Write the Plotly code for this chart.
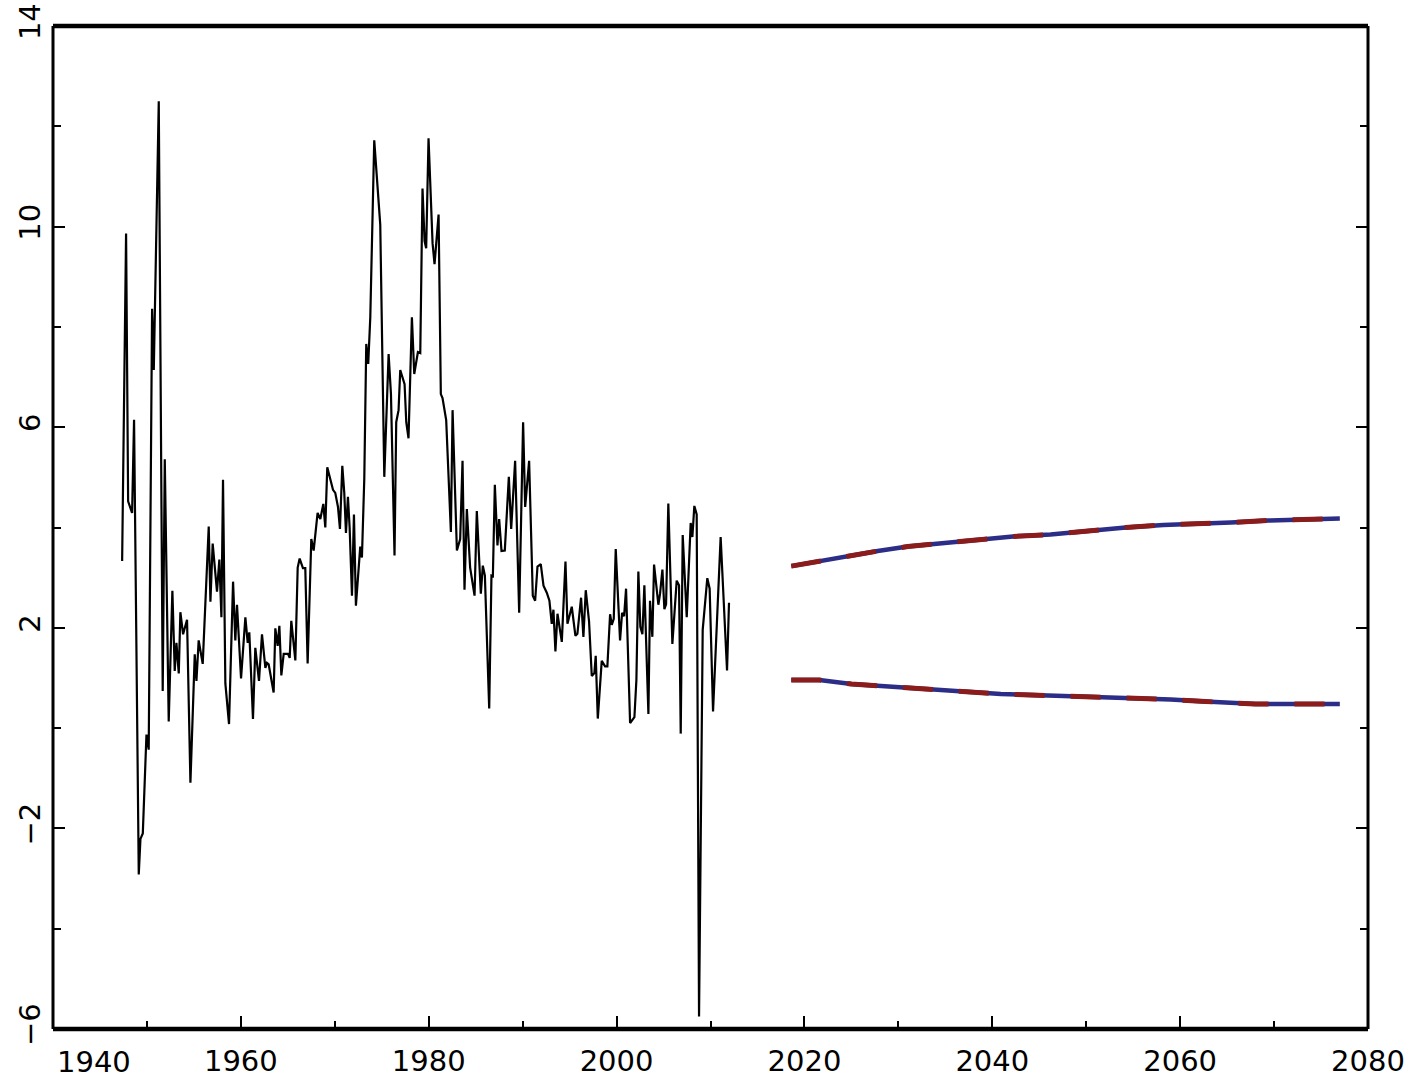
import plotly.graph_objects as go

# Historical quarterly series (decimal year, percent)
hist_year = [
    1947.36, 1947.78, 1948.00, 1948.42, 1948.63, 1949.13, 1949.31, 1949.56, 1949.95, 1950.19,
    1950.55, 1950.73, 1951.26, 1951.68, 1951.90, 1952.32, 1952.71, 1952.96, 1953.14, 1953.39,
    1953.56, 1953.85, 1954.27, 1954.63, 1955.09, 1955.27, 1955.51, 1955.94, 1956.58, 1956.76,
    1957.00, 1957.46, 1957.71, 1957.93, 1958.10, 1958.35, 1958.74, 1959.17, 1959.41, 1959.59,
    1960.02, 1960.48, 1960.73, 1960.90, 1961.29, 1961.54, 1961.93, 1962.25, 1962.61, 1962.78,
    1962.96, 1963.49, 1963.67, 1963.92, 1964.10, 1964.31, 1964.56, 1965.02, 1965.20, 1965.37,
    1965.80, 1966.05, 1966.26, 1966.61, 1966.86, 1967.11, 1967.50, 1967.75, 1968.17, 1968.46,
    1968.78, 1968.99, 1969.20, 1969.52, 1969.81, 1970.05, 1970.34, 1970.55, 1970.80, 1971.01,
    1971.19, 1971.40, 1971.58, 1971.83, 1972.04, 1972.25, 1972.71, 1972.89, 1973.14, 1973.35,
    1973.56, 1973.78, 1974.20, 1974.84, 1975.27, 1975.73, 1975.98, 1976.36, 1976.54, 1976.79,
    1976.97, 1977.43, 1977.61, 1977.85, 1978.21, 1978.46, 1978.85, 1979.10, 1979.34, 1979.56,
    1979.73, 1979.98, 1980.41, 1980.62, 1981.05, 1981.29, 1981.47, 1981.86, 1982.36, 1982.54,
    1983.00, 1983.35, 1983.60, 1983.81, 1984.06, 1984.41, 1984.88, 1985.12, 1985.55, 1985.76,
    1985.98, 1986.44, 1986.68, 1986.83, 1987.04, 1987.32, 1987.50, 1987.75, 1988.10, 1988.53,
    1988.78, 1989.20, 1989.63, 1990.05, 1990.27, 1990.69, 1991.08, 1991.33, 1991.58, 1991.93,
    1992.22, 1992.57, 1992.85, 1993.10, 1993.28, 1993.49, 1993.71, 1994.17, 1994.56, 1994.77,
    1995.23, 1995.62, 1995.83, 1996.22, 1996.47, 1996.72, 1997.07, 1997.36, 1997.64, 1997.78,
    1998.00, 1998.42, 1998.78, 1999.02, 1999.31, 1999.49, 1999.70, 1999.91, 2000.37, 2000.59,
    2000.80, 2001.01, 2001.44, 2001.90, 2002.11, 2002.32, 2002.53, 2002.75, 2002.96, 2003.39,
    2003.56, 2003.81, 2003.99, 2004.45, 2004.63, 2004.88, 2005.09, 2005.27, 2005.51, 2005.94,
    2006.40, 2006.65, 2006.83, 2007.04, 2007.47, 2007.89, 2008.07, 2008.28, 2008.53, 2008.78,
    2009.17, 2009.66, 2009.91, 2010.27, 2011.08, 2011.76, 2011.97,
]
hist_value = [
    3.33, 9.86, 4.52, 4.29, 6.15, -2.92, -2.21, -2.10, -0.13, -0.43,
    8.36, 7.14, 12.50, 0.74, 5.36, 0.13, 2.74, 1.14, 1.70, 1.09,
    2.31, 1.87, 2.16, -1.09, 1.47, 0.94, 1.75, 1.28, 4.02, 2.52,
    3.68, 2.72, 3.36, 2.21, 4.95, 0.89, 0.08, 2.92, 1.75, 2.46,
    0.99, 2.21, 1.70, 1.91, 0.18, 1.60, 0.94, 1.87, 1.20, 1.30,
    1.27, 0.71, 1.99, 1.64, 2.04, 1.05, 1.48, 1.48, 1.40, 2.14,
    1.35, 3.20, 3.38, 3.19, 3.19, 1.29, 3.77, 3.54, 4.29, 4.17,
    4.47, 4.00, 5.20, 4.93, 4.75, 4.69, 4.41, 3.97, 5.23, 4.69,
    3.89, 4.61, 4.00, 2.64, 4.26, 2.44, 3.62, 3.40, 4.97, 7.66,
    7.26, 8.19, 11.72, 10.04, 5.01, 7.46, 6.66, 3.44, 6.10, 6.34,
    7.14, 6.86, 6.10, 5.78, 8.19, 7.06, 7.50, 7.48, 10.76, 9.71,
    9.57, 11.76, 9.67, 9.25, 10.24, 6.66, 6.58, 6.14, 3.91, 6.34,
    3.54, 3.77, 5.33, 2.76, 4.37, 3.20, 2.64, 4.33, 2.68, 3.24,
    3.04, 0.39, 3.04, 3.03, 4.85, 3.64, 4.17, 3.53, 3.54, 5.01,
    3.97, 5.33, 2.30, 6.10, 4.41, 5.33, 2.64, 2.54, 3.22, 3.27,
    2.84, 2.70, 2.54, 2.08, 2.36, 1.53, 2.28, 1.72, 3.32, 2.08,
    2.42, 1.84, 1.88, 2.60, 1.82, 2.75, 2.13, 1.04, 1.10, 1.44,
    0.19, 1.34, 1.23, 1.23, 2.27, 2.06, 2.18, 3.57, 1.75, 2.30,
    2.23, 2.78, 0.10, 0.22, 0.96, 3.12, 2.02, 1.87, 2.85, 0.28,
    2.54, 1.82, 3.26, 2.46, 2.68, 3.16, 2.37, 2.47, 4.48, 1.68,
    2.94, 2.85, -0.11, 3.85, 2.21, 4.09, 3.81, 4.43, 4.26, -5.75,
    1.96, 2.99, 2.78, 0.33, 3.81, 1.15, 2.50,
]

# Projected upper and lower paths
upper_year = [2018.6, 2021.4, 2024.2, 2027.8, 2031.0, 2034.2, 2038.2, 2042.2, 2046.2,
              2050.2, 2054.2, 2058.2, 2062.2, 2065.4, 2069.4, 2073.4, 2077.0]
upper_value = [3.23, 3.32, 3.43, 3.53, 3.62, 3.68, 3.75, 3.82, 3.86,
               3.94, 4.00, 4.05, 4.07, 4.10, 4.14, 4.15, 4.18]
lower_year = [2018.6, 2021.6, 2025.0, 2028.4, 2032.6, 2036.4, 2040.9, 2047.6, 2053.7,
              2059.0, 2062.7, 2068.0, 2077.0]
lower_value = [0.96, 0.96, 0.88, 0.84, 0.77, 0.73, 0.68, 0.64, 0.61,
               0.57, 0.53, 0.48, 0.48]

x_ticks = [1960, 1980, 2000, 2020, 2040, 2060, 2080]

BLUE = "#2b2d86"
RED = "#8a1c1c"
FONT = "DejaVu Sans"
FSIZE = 29

fig = go.Figure()

fig.add_trace(go.Scatter(
    x=hist_year, y=hist_value, mode="lines",
    line=dict(color="black", width=2.2), showlegend=False, hoverinfo="skip",
))

for xs, ys in ((upper_year, upper_value), (lower_year, lower_value)):
    fig.add_trace(go.Scatter(
        x=xs, y=ys, mode="lines",
        line=dict(color=BLUE, width=4.5), showlegend=False,
    ))
    fig.add_trace(go.Scatter(
        x=xs, y=ys, mode="lines",
        line=dict(color=RED, width=5, dash="30px,26px"), showlegend=False,
    ))

fig.update_layout(
    width=1414, height=1081,
    margin=dict(l=53, r=46, t=26, b=52, autoexpand=False),
    paper_bgcolor="white", plot_bgcolor="white",
    font=dict(family=FONT, size=FSIZE, color="black"),
)

fig.update_xaxes(
    range=[1940, 2080], showgrid=False, zeroline=False, showline=False,
    automargin=False,
    tickmode="array", tickvals=x_ticks, ticktext=[str(v) for v in x_ticks],
    ticks="inside", ticklen=13, tickwidth=2, tickcolor="black",
    minor=dict(ticks="inside", ticklen=8, tickwidth=2, tickcolor="black",
               dtick=10, tick0=1940),
    ticklabelstandoff=12,
    tickfont=dict(family=FONT, size=FSIZE),
)
fig.update_yaxes(
    range=[-6, 14], showgrid=False, zeroline=False, showline=False,
    automargin=False,
    tickmode="linear", tick0=-6, dtick=4, mirror="ticks",
    ticks="inside", ticklen=12, tickwidth=2, tickcolor="black",
    minor=dict(ticks="inside", ticklen=8, tickwidth=2, tickcolor="black",
               dtick=2, tick0=0),
    ticklabelstandoff=6,
    tickangle=-90, tickfont=dict(family=FONT, size=FSIZE),
)

# Frame: heavier top and bottom edges, lighter sides
frame = [
    dict(x0=0, x1=1, y0=1, y1=1, w=4.5),
    dict(x0=0, x1=1, y0=0, y1=0, w=4.5),
    dict(x0=0, x1=0, y0=0, y1=1, w=3),
    dict(x0=1, x1=1, y0=0, y1=1, w=3),
]
for f in frame:
    fig.add_shape(type="line", xref="paper", yref="paper",
                  x0=f["x0"], x1=f["x1"], y0=f["y0"], y1=f["y1"],
                  line=dict(color="black", width=f["w"]))

# First year label sits just inside the left edge
fig.add_annotation(x=1940, y=0, xref="x", yref="paper", text="1940",
                   showarrow=False, xanchor="left", yanchor="top",
                   xshift=2, yshift=-14, font=dict(family=FONT, size=FSIZE))

fig.write_html("out.html")
